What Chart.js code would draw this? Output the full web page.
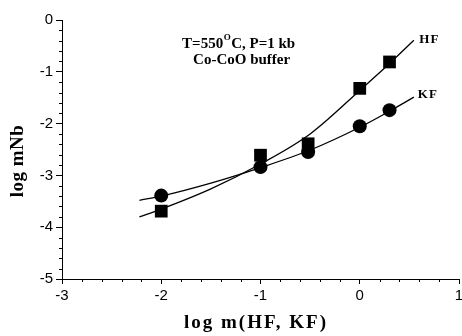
<!DOCTYPE html>
<html>
<head>
<meta charset="utf-8">
<script src="https://cdn.jsdelivr.net/npm/chart.js@4.4.1/dist/chart.umd.min.js"></script>
<style>
    html, body { margin: 0; padding: 0; background: #fff; }
    #wrap { width: 462px; height: 336px; }
</style>
</head>
<body>
<div id="wrap"><canvas id="chart"></canvas></div>
<script>
// Measured points: log m(HF, KF) vs log mNb
const concX = [-2, -1, -0.52, 0, 0.3];
const hfValues = [-3.69, -2.61, -2.39, -1.32, -0.81];
const kfValues = [-3.39, -2.84, -2.55, -2.05, -1.74];

// Fitted curves
const fitX = [-2.22, -2, -1.5, -1, -0.5, 0, 0.3, 0.545];
const hfFit = [-3.80, -3.65, -3.26, -2.78, -2.20, -1.36, -0.84, -0.39];
const kfFit = [-3.48, -3.40, -3.15, -2.85, -2.51, -2.07, -1.76, -1.49];

const xTicks = [-3, -2, -1, 0, 1];
const yTicks = [-5, -4, -3, -2, -1, 0];

const toPoints = (xs, ys) => xs.map((x, i) => ({ x: x, y: ys[i] }));

const serif = "'Liberation Serif', 'Times New Roman', serif";
const sans = "'Liberation Sans', Arial, sans-serif";

// Minor ticks, axis titles and text labels
const decorations = {
    id: 'decorations',
    afterDraw(chart) {
        const ctx = chart.ctx;
        const xs = chart.scales.x;
        const ys = chart.scales.y;
        const area = chart.chartArea;

        ctx.save();
        ctx.strokeStyle = '#000';
        ctx.lineWidth = 1;
        ctx.beginPath();
        for (let i = 0; i <= 20; i++) {
            if (i % 5 === 0) continue;
            const px = Math.round(xs.getPixelForValue(-3 + i * 0.2)) + 0.5;
            ctx.moveTo(px, area.bottom);
            ctx.lineTo(px, area.bottom + 3);
        }
        for (let i = 0; i <= 25; i++) {
            if (i % 5 === 0) continue;
            const py = Math.round(ys.getPixelForValue(-5 + i * 0.2)) + 0.5;
            ctx.moveTo(area.left - 3, py);
            ctx.lineTo(area.left, py);
        }
        ctx.stroke();

        ctx.fillStyle = '#000';
        ctx.textBaseline = 'middle';

        // axis titles
        ctx.font = 'bold 19px ' + serif;
        ctx.letterSpacing = '2px';
        ctx.textAlign = 'center';
        ctx.fillText('log m(HF, KF)', 256, 323);
        ctx.save();
        ctx.translate(18, 161);
        ctx.rotate(-Math.PI / 2);
        ctx.letterSpacing = '0.5px';
        ctx.fillText('log mNb', 0, 0);
        ctx.restore();
        ctx.letterSpacing = '0px';

        // condition note
        ctx.font = 'bold 15px ' + serif;
        ctx.textAlign = 'left';
        let tx = xs.getPixelForValue(-1.79);
        const ty = ys.getPixelForValue(-0.46);
        const parts1 = 'T=550';
        ctx.fillText(parts1, tx, ty);
        tx += ctx.measureText(parts1).width;
        ctx.font = 'bold 9px ' + serif;
        ctx.fillText('O', tx + 0.5, ty - 6);
        tx += ctx.measureText('O').width + 1;
        ctx.font = 'bold 15px ' + serif;
        ctx.fillText('C, P=1 kb', tx, ty);
        ctx.textAlign = 'center';
        ctx.fillText('Co-CoO buffer', xs.getPixelForValue(-1.19), ys.getPixelForValue(-0.77));

        // series labels
        ctx.font = 'bold 13px ' + serif;
        ctx.textAlign = 'left';
        ctx.letterSpacing = '1px';
        ctx.fillText('HF', xs.getPixelForValue(0.6), ys.getPixelForValue(-0.37));
        ctx.fillText('KF', xs.getPixelForValue(0.585), ys.getPixelForValue(-1.45));
        ctx.restore();
    }
};

new Chart(document.getElementById('chart'), {
    type: 'scatter',
    data: {
        datasets: [
            {
                label: 'HF fit',
                type: 'line',
                data: toPoints(fitX, hfFit),
                borderColor: '#000',
                borderWidth: 1.3,
                pointRadius: 0,
                cubicInterpolationMode: 'monotone',
                fill: false
            },
            {
                label: 'KF fit',
                type: 'line',
                data: toPoints(fitX, kfFit),
                borderColor: '#000',
                borderWidth: 1.3,
                pointRadius: 0,
                cubicInterpolationMode: 'monotone',
                fill: false
            },
            {
                label: 'HF',
                data: toPoints(concX, hfValues),
                pointStyle: 'rect',
                pointRadius: 9,
                backgroundColor: '#000',
                borderColor: '#000',
                borderWidth: 0
            },
            {
                label: 'KF',
                data: toPoints(concX, kfValues),
                pointStyle: 'circle',
                pointRadius: 7,
                backgroundColor: '#000',
                borderColor: '#000',
                borderWidth: 0
            }
        ]
    },
    options: {
        responsive: true,
        maintainAspectRatio: false,
        animation: false,
        layout: {
            autoPadding: false,
            padding: { top: 20, right: 3, left: 0, bottom: 0 }
        },
        plugins: {
            legend: { display: false },
            tooltip: { enabled: false }
        },
        scales: {
            x: {
                type: 'linear',
                min: -3,
                max: 1,
                afterBuildTicks: scale => { scale.ticks = xTicks.map(v => ({ value: v })); },
                afterFit: scale => {
                    scale.height = 57;
                    scale.paddingLeft = 0;
                    scale.paddingRight = 0;
                },
                ticks: {
                    autoSkip: false,
                    maxRotation: 0,
                    padding: 3,
                    color: '#000',
                    font: { family: sans, size: 15 }
                },
                grid: {
                    drawOnChartArea: false,
                    drawTicks: true,
                    tickLength: 5,
                    color: '#000'
                },
                border: { display: true, color: '#000', width: 1 }
            },
            y: {
                type: 'linear',
                min: -5,
                max: 0,
                afterBuildTicks: scale => { scale.ticks = yTicks.map(v => ({ value: v })); },
                afterFit: scale => {
                    scale.width = 62;
                    scale.paddingTop = 0;
                    scale.paddingBottom = 0;
                },
                ticks: {
                    padding: 3,
                    color: '#000',
                    font: { family: sans, size: 15 }
                },
                grid: {
                    drawOnChartArea: false,
                    drawTicks: true,
                    tickLength: 6,
                    color: '#000'
                },
                border: { display: true, color: '#000', width: 1 }
            }
        }
    },
    plugins: [decorations]
});
</script>
</body>
</html>
